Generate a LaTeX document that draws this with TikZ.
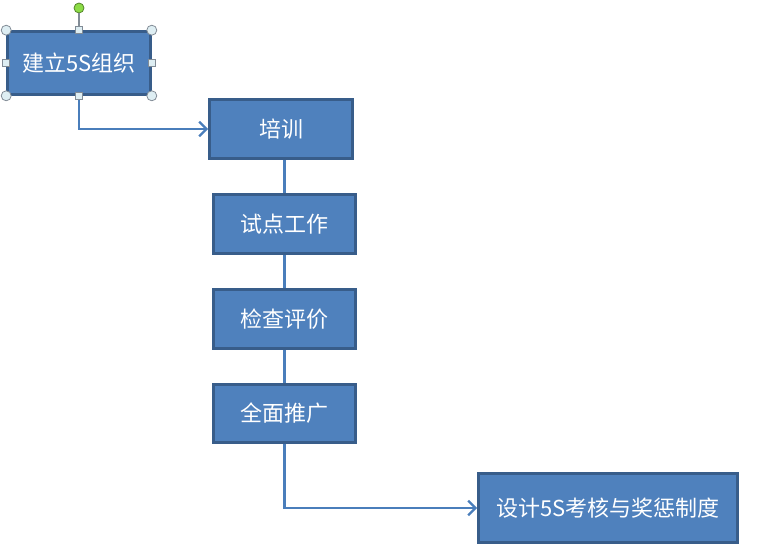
\documentclass[tikz,border=0pt]{standalone}
\usepackage{fontspec}
\usepackage{xcolor}
\usepackage{tikz}
\usetikzlibrary{arrows.meta}
\setmainfont{Noto Sans CJK SC}
\definecolor{boxfill}{RGB}{79,129,189}
\definecolor{boxline}{RGB}{56,93,138}
\definecolor{linkline}{RGB}{74,126,187}
\definecolor{handlefill}{RGB}{222,238,243}
\definecolor{handleline}{RGB}{130,140,150}
\definecolor{rotgreen}{RGB}{140,220,70}

\begin{document}
\begin{tikzpicture}[x=0.75pt,y=-0.75pt,
        main node/.style={rectangle,draw=boxline,fill=boxfill,line width=2.2pt,
          text=white,inner sep=1pt,font=\fontsize{16.5}{19}\selectfont},
        link edge/.style={draw=linkline,line width=2.1pt},
        arrow edge/.style={link edge,-{Straight Barb[length=5.5pt,width=11pt,line width=1.8pt]}},
        corner handle/.style={circle,draw=handleline,fill=handlefill,line width=0.6pt,
          inner sep=0pt,minimum size=7.5pt},
        side handle/.style={rectangle,draw=handleline,fill=handlefill,line width=0.6pt,
          inner sep=0pt,minimum size=5pt}
      ]
      \useasboundingbox (0,0) rectangle (771,555);

      % the six steps
      \node[main node,minimum width=107pt,minimum height=47pt] (1) at (79,63)     {建立5S组织};
      \node[main node,minimum width=107pt,minimum height=44pt] (2) at (281,129)   {培训};
      \node[main node,minimum width=106pt,minimum height=44pt] (3) at (284.5,224) {试点工作};
      \node[main node,minimum width=106pt,minimum height=44pt] (4) at (284.5,319) {检查评价};
      \node[main node,minimum width=106pt,minimum height=44pt] (5) at (284.5,413.5) {全面推广};
      \node[main node,minimum width=194pt,minimum height=52pt] (6) at (608,508)   {设计5S考核与奖惩制度};

      % connectors
      \path[arrow edge] (1.south) |- (2.west);
      \path[link edge]
        (3.north |- 2.south) edge (3.north)
        (3.south) edge (4.north)
        (4.south) edge (5.north);
      \path[arrow edge] (5.south) |- (6.west);

      % selection handles of the first box
      \node[circle,draw=rotgreen!60!black,fill=rotgreen,line width=0.6pt,
        inner sep=0pt,minimum size=7.5pt] (rot) at (79,8) {};
      \draw[handleline,line width=0.8pt] (rot) -- (1.north);
      \foreach \a in {north west,north east,south west,south east}
        \node[corner handle] at (1.\a) {};
      \foreach \a in {north,south,west,east}
        \node[side handle] at (1.\a) {};
    \end{tikzpicture}
\end{document}
